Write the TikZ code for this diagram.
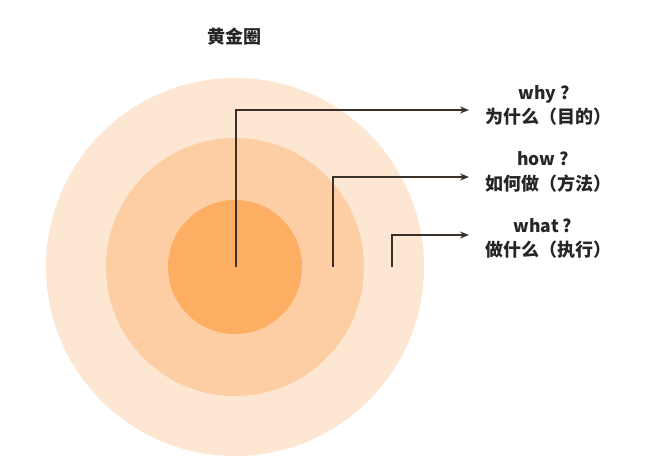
\documentclass[tikz,border=0pt]{standalone}
\usepackage{fontspec}
\newfontfamily\cjk{Noto Sans CJK SC}
\usetikzlibrary{arrows.meta}
\definecolor{ringout}{HTML}{FDE6D2}
\definecolor{ringmid}{HTML}{FDCEA4}
\definecolor{ringin}{HTML}{FDAE62}
\definecolor{leader}{HTML}{3A3029}
\tikzset{
  lbl/.style={inner sep=0pt,font=\cjk\bfseries\fontsize{18}{20}\selectfont,text=black!85},
  lblen/.style={lbl,font=\cjk\bfseries\fontsize{17.5}{20}\selectfont},
  leadline/.style={draw=leader,line width=1.5pt,-{Stealth[length=9pt,width=7pt]}}
}

\begin{document}
\begin{tikzpicture}[x=1pt,y=-1pt]
\useasboundingbox[fill=white] (0,0) rectangle (660,458);

\node[lbl] (title) at (234,37) {黄金圈};

% rings
\fill[ringout] (235,267) circle (189pt);
\fill[ringmid] (235,267) circle (129pt);
\fill[ringin] (235,267) circle (67pt);

% leader start points and arrow ends
\coordinate (why0) at (236,267);
\coordinate (how0) at (333,267);
\coordinate (what0) at (392,267);
\coordinate (why1) at (469,110);
\coordinate (how1) at (469,177);
\coordinate (what1) at (469,235);

\node[lblen] (whyen) at (544,94) {why ?};
\node[lbl] (whycn) at (548,117) {为什么（目的）};
\node[lblen] (howen) at (543,159) {how ?};
\node[lbl] (howcn) at (548,184) {如何做（方法）};
\node[lblen] (whaten) at (543,226) {what ?};
\node[lbl] (whatcn) at (548,250) {做什么（执行）};

\foreach \k in {why,how,what}
{
\draw[leadline] (\k0) |- (\k1);
}
\end{tikzpicture}
\end{document}
